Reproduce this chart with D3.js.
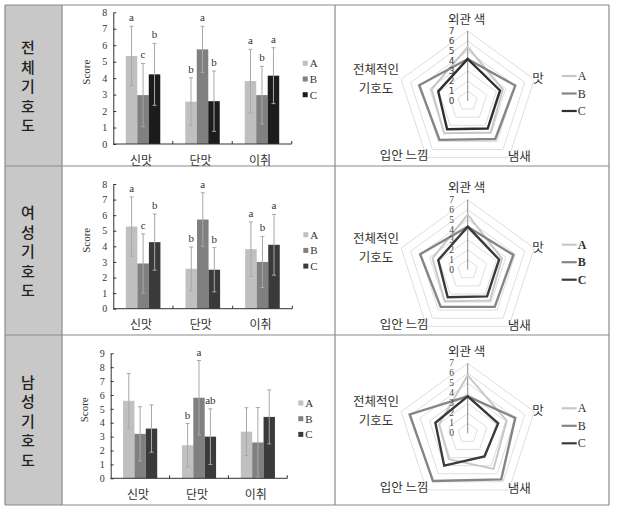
<!DOCTYPE html>
<html><head><meta charset="utf-8">
<script src="https://cdn.jsdelivr.net/npm/d3@7"></script>
<style>
html,body{margin:0;padding:0;background:#fff;}
svg{display:block;}
</style>
</head><body>
<svg id="c" width="618" height="512"></svg>
<script>
// ---------- DATA ----------
const rowLabels = ["전체기호도", "여성기호도", "남성기호도"];
const barCategories = ["신맛", "단맛", "이취"];
const seriesNames = ["A", "B", "C"];
// means per category (rows) for series A,B,C (columns)
const totalMeans = [[5.35, 2.97, 4.23], [2.57, 5.75, 2.60], [3.82, 2.97, 4.15]];
const totalErrors = [[1.80, 1.92, 1.88], [1.45, 1.40, 1.83], [1.93, 1.75, 1.70]];
const totalLetters = [["a", "c", "b"], ["b", "a", "b"], ["a", "b", "a"]];
const femaleMeans = [[5.27, 2.90, 4.27], [2.56, 5.72, 2.50], [3.82, 3.00, 4.10]];
const femaleErrors = [[1.90, 1.90, 1.80], [1.40, 1.72, 1.42], [1.75, 1.64, 1.95]];
const femaleLetters = [["a", "c", "b"], ["b", "a", "b"], ["a", "b", "a"]];
const maleMeans = [[5.58, 3.20, 3.58], [2.38, 5.80, 3.00], [3.36, 2.58, 4.42]];
const maleErrors = [[1.96, 1.95, 1.70], [1.56, 2.68, 2.00], [1.72, 2.52, 1.94]];
const maleLetters = [["", "", ""], ["b", "a", "ab"], ["", "", ""]];
const barYTicks = [[0, 1, 2, 3, 4, 5, 6, 7, 8], [0, 1, 2, 3, 4, 5, 6, 7, 8], [0, 1, 2, 3, 4, 5, 6, 7, 8, 9]];

const radarAxes = ["외관 색", "맛", "냄새", "입안 느낌", "전체적인 기호도"];
const radarTicks = [0, 1, 2, 3, 4, 5, 6, 7];
const totalRadarA = [5.4, 3.7, 3.9, 4.0, 3.8];
const totalRadarB = [4.2, 5.0, 4.7, 4.8, 5.1];
const totalRadarC = [4.2, 3.4, 3.4, 3.5, 3.1];
const femaleRadarA = [5.5, 3.6, 3.8, 3.9, 3.7];
const femaleRadarB = [4.3, 4.8, 4.6, 4.6, 5.0];
const femaleRadarC = [4.3, 3.3, 3.3, 3.4, 3.1];
const maleRadarA = [5.8, 4.1, 4.4, 3.2, 3.0];
const maleRadarB = [3.7, 5.0, 5.7, 5.9, 6.1];
const maleRadarC = [3.7, 3.2, 2.85, 4.0, 3.4];

// ---------- LAYOUT ----------
const svg = d3.select("#c");
svg.append("rect").attr("width", 618).attr("height", 512).attr("fill", "#fff");
const colX = [5, 62, 335, 609];
const rowY = [5, 166, 335, 505];
const kr = "'Noto Sans CJK KR','Noto Sans',sans-serif";
const serif = "'Liberation Serif','DejaVu Serif',serif";

// label column fill
for (let i = 0; i < 3; i++) {
  svg.append("rect").attr("x", colX[0]).attr("y", rowY[i]).attr("width", colX[1] - colX[0])
    .attr("height", rowY[i + 1] - rowY[i]).attr("fill", "#c8c8c8");
}
// grid lines
const gridG = svg.append("g").attr("stroke", "#8a8a8a").attr("stroke-width", 1.2).attr("fill", "none");
colX.forEach(x => gridG.append("line").attr("x1", x).attr("x2", x).attr("y1", rowY[0]).attr("y2", rowY[3]));
rowY.forEach(y => gridG.append("line").attr("x1", colX[0]).attr("x2", colX[3]).attr("y1", y).attr("y2", y));

// row labels (vertical)
rowLabels.forEach((lab, i) => {
  const chars = Array.from(lab);
  const cy = (rowY[i] + rowY[i + 1]) / 2;
  const step = 19.5;
  chars.forEach((ch, j) => {
    svg.append("text").attr("x", 28).attr("y", cy + (j - (chars.length - 1) / 2) * step)
      .attr("text-anchor", "middle").attr("dominant-baseline", "central")
      .attr("font-family", kr).attr("font-size", 15).attr("font-weight", 500).attr("fill", "#222").text(ch);
  });
});

const barColors = [["#c0c0c0", "#808080", "#1c1c1c"], ["#c0c0c0", "#808080", "#3a3a3a"], ["#c0c0c0", "#808080", "#3a3a3a"]];

function barChart(cfg) {
  const { means, errors, letters, ticks, xL, xR, y0, yT, colors, legendY } = cfg;
  const g = svg.append("g");
  const maxV = ticks[ticks.length - 1];
  const y = d3.scaleLinear().domain([0, maxV]).range([y0, yT]);
  const x0 = d3.scaleBand().domain(barCategories).range([xL, xR]).padding(0);
  const groupW = x0.bandwidth() * 0.58;
  const x1 = d3.scaleBand().domain(seriesNames).range([0, groupW]).padding(0);
  const off = (x0.bandwidth() - groupW) / 2;

  // bars
  barCategories.forEach((c, ci) => {
    seriesNames.forEach((s, si) => {
      const v = means[ci][si];
      const bx = x0(c) + off + x1(s);
      g.append("rect").attr("x", bx).attr("y", y(v)).attr("width", x1.bandwidth())
        .attr("height", y(0) - y(v)).attr("fill", colors[si]);
    });
  });
  // error bars
  barCategories.forEach((c, ci) => {
    seriesNames.forEach((s, si) => {
      const v = means[ci][si], e = errors[ci][si];
      const cx = x0(c) + off + x1(s) + x1.bandwidth() / 2;
      const top = y(v + e), bot = y(Math.max(0, v - e));
      const eg = g.append("g").attr("stroke", "#a8a8a8").attr("stroke-width", 1);
      eg.append("line").attr("x1", cx).attr("x2", cx).attr("y1", top).attr("y2", bot);
      eg.append("line").attr("x1", cx - 2).attr("x2", cx + 2).attr("y1", top).attr("y2", top);
      eg.append("line").attr("x1", cx - 2).attr("x2", cx + 2).attr("y1", bot).attr("y2", bot);
      const L = letters[ci][si];
      if (L) {
        g.append("text").attr("x", cx).attr("y", top - 5).attr("text-anchor", "middle")
          .attr("font-family", serif).attr("font-size", 11).attr("fill", "#333").text(L);
      }
    });
  });
  // y axis
  const ya = d3.axisLeft(y).tickValues(ticks).tickFormat(d3.format("d")).tickSizeInner(-3).tickSizeOuter(0).tickPadding(6);
  const yg = g.append("g").attr("transform", `translate(${xL},0)`).call(ya);
  yg.selectAll("path,line").attr("stroke", "#333");
  yg.selectAll("text").attr("font-family", serif).attr("font-size", 10).attr("fill", "#333");
  // x axis
  g.append("line").attr("x1", xL).attr("x2", xR).attr("y1", y0).attr("y2", y0).attr("stroke", "#333");
  barCategories.forEach((c, ci) => {
    const bx = x0(c) + x0.bandwidth();
    g.append("line").attr("x1", bx).attr("x2", bx).attr("y1", y0).attr("y2", y0 - 3).attr("stroke", "#333");
    g.append("text").attr("x", x0(c) + x0.bandwidth() / 2 - 2).attr("y", y0 + 15)
      .attr("text-anchor", "middle").attr("dominant-baseline", "central")
      .attr("font-family", kr).attr("font-size", 12).attr("fill", "#333").text(c);
  });
  // Score label
  const midY = (y0 + yT) / 2 - 6;
  g.append("text").attr("transform", `translate(${xL - 27},${midY}) rotate(-90)`)
    .attr("text-anchor", "middle").attr("dominant-baseline", "central")
    .attr("font-family", serif).attr("font-size", 11).attr("fill", "#333").text("Score");
  // legend
  seriesNames.forEach((s, si) => {
    const ly = legendY + si * 15.7;
    g.append("rect").attr("x", xR + 11).attr("y", ly - 2.5).attr("width", 5).attr("height", 5).attr("fill", colors[si]);
    g.append("text").attr("x", xR + 18).attr("y", ly).attr("dominant-baseline", "central")
      .attr("font-family", serif).attr("font-size", 11).attr("fill", "#333").text(s);
  });
}

barChart({ means: totalMeans, errors: totalErrors, letters: totalLetters, ticks: barYTicks[0],
  xL: 113.3, xR: 291.7, y0: 144, yT: 12.3, colors: barColors[0], legendY: 63.3 });
barChart({ means: femaleMeans, errors: femaleErrors, letters: femaleLetters, ticks: barYTicks[1],
  xL: 113.3, xR: 292.3, y0: 308.7, yT: 184, colors: barColors[1], legendY: 234.7 });
barChart({ means: maleMeans, errors: maleErrors, letters: maleLetters, ticks: barYTicks[2],
  xL: 110.7, xR: 287.3, y0: 478.3, yT: 353.3, colors: barColors[2], legendY: 403 });

// ---------- RADAR ----------
const radarColors = [["#c8c8c8", "#858585", "#2e2e2e"], ["#c8c8c8", "#858585", "#3a3a3a"], ["#c8c8c8", "#858585", "#3a3a3a"]];

function radar(cfg) {
  const { cx, cy, data, colors, tickFont, tickSize, boldLegend } = cfg;
  const g = svg.append("g").attr("transform", `translate(${cx},${cy})`);
  const r = d3.scaleLinear().domain([0, 7]).range([0, 70]);
  const ang = d3.scaleLinear().domain([0, radarAxes.length]).range([0, 2 * Math.PI]);
  const radial = d3.lineRadial().angle((d, i) => ang(i)).radius(d => r(d)).curve(d3.curveLinearClosed);
  // grid rings
  radarTicks.slice(1).forEach(t => {
    g.append("path").attr("d", radial(radarAxes.map(() => t))).attr("fill", "none")
      .attr("stroke", "#dedede").attr("stroke-width", 1);
  });
  // value axis
  g.append("line").attr("x1", 0).attr("x2", 0).attr("y1", 0).attr("y2", -r(7)).attr("stroke", "#8c8c8c").attr("stroke-width", 1);
  // series
  data.forEach((vals, si) => {
    g.append("path").attr("d", radial(vals)).attr("fill", "none").attr("stroke", colors[si])
      .attr("stroke-width", si === 0 ? 2 : 2.4).attr("stroke-linejoin", "miter");
  });
  // tick labels
  radarTicks.forEach(t => {
    g.append("text").attr("x", -16).attr("y", -r(t)).attr("text-anchor", "middle").attr("dominant-baseline", "central")
      .attr("font-family", tickFont).attr("font-size", tickSize).attr("fill", "#444").text(t);
  });
  // axis labels
  const lab = (txt, x, y, anchor) => g.append("text").attr("x", x).attr("y", y).attr("text-anchor", anchor)
    .attr("dominant-baseline", "central").attr("font-family", kr).attr("font-size", 12.5).attr("fill", "#333").text(txt);
  const R = r(7);
  const pt = i => [Math.sin(ang(i)) * R, -Math.cos(ang(i)) * R];
  let p = pt(0); lab(radarAxes[0], p[0] - 1, p[1] - 13, "middle");
  p = pt(1); lab(radarAxes[1], p[0] - 2, p[1] - 2, "start");
  p = pt(2); lab(radarAxes[2], p[0] - 1, p[1] - 2, "start");
  p = pt(3); lab(radarAxes[3], p[0] + 2, p[1] - 3, "end");
  p = pt(4);
  const parts = radarAxes[4].split(" ");
  lab(parts[0], p[0] - 25, p[1] - 11, "middle");
  lab(parts[1], p[0] - 25, p[1] + 8, "middle");
  // legend
  seriesNames.forEach((s, si) => {
    const ly = -25 + si * 17.5;
    g.append("line").attr("x1", 94).attr("x2", 109).attr("y1", ly).attr("y2", ly)
      .attr("stroke", colors[si]).attr("stroke-width", 2.2);
    g.append("text").attr("x", 110).attr("y", ly).attr("dominant-baseline", "central")
      .attr("font-family", serif).attr("font-size", 12).attr("font-weight", boldLegend ? "bold" : "normal")
      .attr("fill", "#333").text(s);
  });
}

radar({ cx: 467.7, cy: 101, data: [totalRadarA, totalRadarB, totalRadarC], colors: radarColors[0],
  tickFont: "'DejaVu Sans',sans-serif", tickSize: 9, boldLegend: false });
radar({ cx: 467.7, cy: 269.7, data: [femaleRadarA, femaleRadarB, femaleRadarC], colors: radarColors[1],
  tickFont: serif, tickSize: 9.5, boldLegend: true });
radar({ cx: 467.7, cy: 433.3, data: [maleRadarA, maleRadarB, maleRadarC], colors: radarColors[2],
  tickFont: serif, tickSize: 9.5, boldLegend: false });
</script>
</body></html>
